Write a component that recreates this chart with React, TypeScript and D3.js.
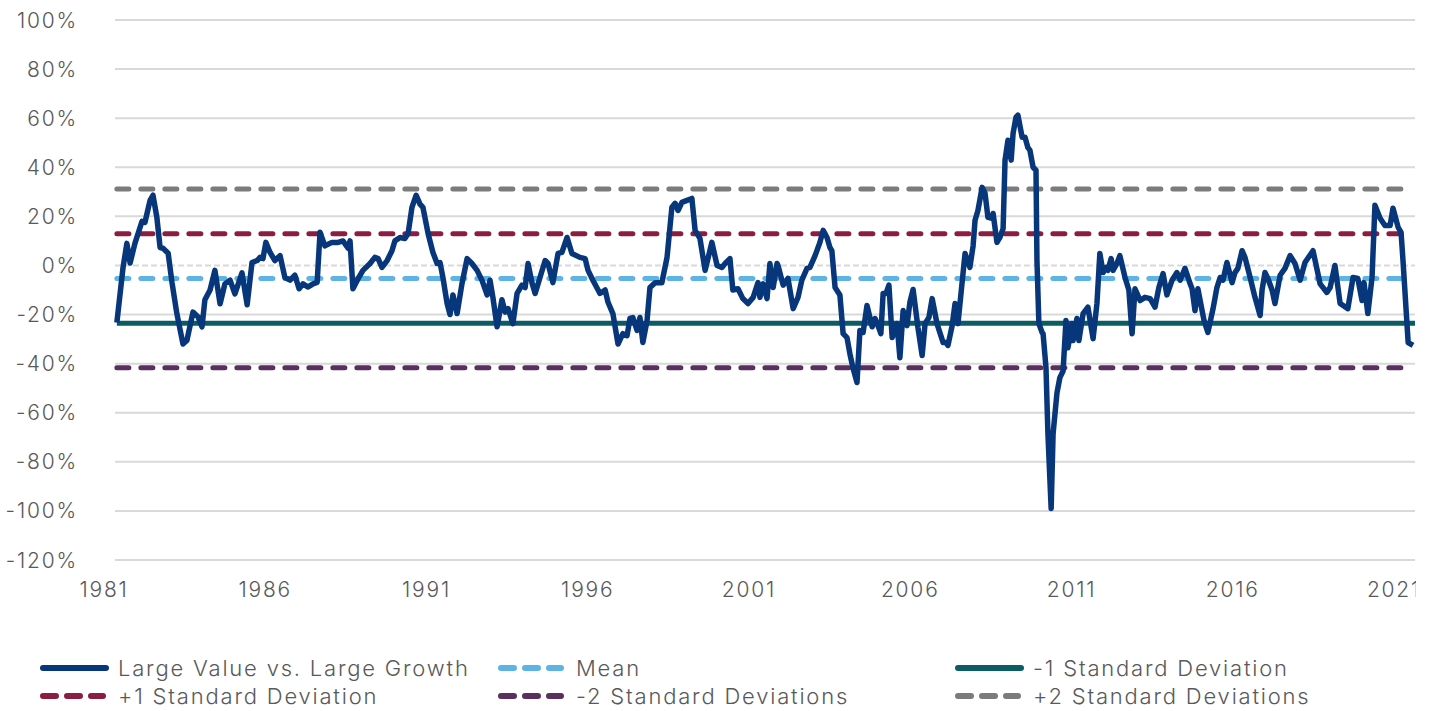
import * as d3 from 'd3';
import * as React from 'react';

const width = 1437;
const height = 711;
const margin = { top: 20, right: 22, bottom: 151, left: 115 };

// relative performance, large value vs. large growth (decimal year, %)
const spreadYears = [
  1981.43, 1981.62, 1981.74, 1981.84, 1981.99, 1982.21, 1982.3, 1982.46, 1982.55, 1982.67,
  1982.77, 1982.86, 1983.02, 1983.14, 1983.29, 1983.48, 1983.6, 1983.79, 1983.95, 1984.07,
  1984.16, 1984.32, 1984.47, 1984.63, 1984.78, 1984.94, 1985.09, 1985.31, 1985.47, 1985.62,
  1985.78, 1985.87, 1985.96, 1986.05, 1986.18, 1986.33, 1986.49, 1986.64, 1986.8, 1986.95,
  1987.08, 1987.2, 1987.36, 1987.51, 1987.64, 1987.73, 1987.88, 1988.1, 1988.29, 1988.44,
  1988.6, 1988.66, 1988.75, 1988.91, 1989.06, 1989.28, 1989.43, 1989.53, 1989.65, 1989.81,
  1989.96, 1990.05, 1990.21, 1990.36, 1990.46, 1990.58, 1990.71, 1990.83, 1990.92, 1991.08,
  1991.23, 1991.36, 1991.45, 1991.54, 1991.67, 1991.76, 1991.85, 1991.98, 1992.13, 1992.29,
  1992.44, 1992.6, 1992.75, 1992.91, 1993.0, 1993.09, 1993.22, 1993.37, 1993.47, 1993.56,
  1993.71, 1993.84, 1993.99, 1994.09, 1994.18, 1994.3, 1994.4, 1994.55, 1994.71, 1994.8,
  1994.95, 1995.11, 1995.23, 1995.39, 1995.54, 1995.79, 1995.95, 1996.04, 1996.19, 1996.41,
  1996.57, 1996.66, 1996.81, 1996.97, 1997.12, 1997.25, 1997.34, 1997.43, 1997.56, 1997.65,
  1997.74, 1997.87, 1997.96, 1998.12, 1998.33, 1998.49, 1998.64, 1998.74, 1998.83, 1998.95,
  1999.11, 1999.26, 1999.36, 1999.51, 1999.67, 1999.88, 2000.04, 2000.19, 2000.29, 2000.44,
  2000.53, 2000.69, 2000.84, 2001.0, 2001.16, 2001.31, 2001.37, 2001.47, 2001.59, 2001.68,
  2001.78, 2001.9, 2001.93, 2002.09, 2002.24, 2002.4, 2002.55, 2002.67, 2002.83, 2002.92,
  2003.08, 2003.23, 2003.33, 2003.45, 2003.54, 2003.6, 2003.7, 2003.85, 2003.95, 2004.07,
  2004.16, 2004.26, 2004.38, 2004.47, 2004.57, 2004.69, 2004.85, 2004.94, 2005.03, 2005.12,
  2005.19, 2005.28, 2005.37, 2005.47, 2005.62, 2005.71, 2005.81, 2005.93, 2006.02, 2006.12,
  2006.27, 2006.4, 2006.49, 2006.61, 2006.71, 2006.86, 2007.05, 2007.14, 2007.2, 2007.33,
  2007.42, 2007.51, 2007.6, 2007.73, 2007.88, 2007.98, 2008.04, 2008.13, 2008.26, 2008.35,
  2008.44, 2008.57, 2008.6, 2008.72, 2008.81, 2008.91, 2008.97, 2009.06, 2009.16, 2009.22,
  2009.31, 2009.37, 2009.5, 2009.59, 2009.68, 2009.74, 2009.84, 2009.93, 2009.96, 2010.02,
  2010.12, 2010.15, 2010.24, 2010.3, 2010.4, 2010.46, 2010.58, 2010.67, 2010.77, 2010.86,
  2010.92, 2011.05, 2011.08, 2011.2, 2011.26, 2011.39, 2011.54, 2011.7, 2011.82, 2011.91,
  2012.01, 2012.1, 2012.16, 2012.26, 2012.32, 2012.44, 2012.53, 2012.69, 2012.81, 2012.91,
  2013.0, 2013.16, 2013.31, 2013.47, 2013.62, 2013.74, 2013.87, 2013.99, 2014.15, 2014.3,
  2014.4, 2014.55, 2014.71, 2014.77, 2014.86, 2014.95, 2015.14, 2015.26, 2015.42, 2015.54,
  2015.64, 2015.73, 2015.85, 2016.01, 2016.1, 2016.19, 2016.32, 2016.41, 2016.57, 2016.72,
  2016.88, 2016.94, 2017.03, 2017.12, 2017.25, 2017.34, 2017.5, 2017.65, 2017.81, 2017.96,
  2018.12, 2018.27, 2018.52, 2018.74, 2018.95, 2019.05, 2019.2, 2019.36, 2019.6, 2019.76,
  2019.91, 2020.04, 2020.1, 2020.22, 2020.35, 2020.44, 2020.6, 2020.75, 2020.91, 2021.0,
  2021.16, 2021.25, 2021.31, 2021.47, 2021.62,
];

const spreadValues = [
  -23.3, -1, 9, 1, 9, 18, 17.5, 26.5, 28.6, 19.6,
  7.3, 7, 5, -7, -19.6, -32, -30.6, -19, -21, -25,
  -14, -10, -2, -15.6, -7.5, -6, -11.6, -3, -16, 1.2,
  2, 3.3, 2.8, 9.4, 5.3, 2, 4, -4.9, -6, -4,
  -9.5, -7.5, -8.8, -7.5, -6.9, 13.5, 8, 9.4, 9.4, 10,
  7, 10, -9.5, -5.4, -2, 0.8, 3.3, 2.8, -0.8, 2,
  6, 10, 11.4, 11, 13, 23.7, 28.6, 25, 23.7, 13,
  5.3, 0.8, 1.2, -4.9, -15.5, -20, -12, -19.6, -7.5, 2.8,
  0.8, -2, -6, -12, -6, -13, -25, -14, -19, -17.6,
  -23.7, -11.4, -8, -9, 0.8, -7, -11.4, -4.9, 2, 0.8,
  -7, 4.9, 5.3, 11.4, 4.9, 3.3, 2.8, -2, -6, -11.4,
  -10, -15, -19.6, -32, -27.8, -28.6, -21.6, -21.2, -26.5, -21.2,
  -31.4, -22.4, -9, -7, -7, 3.3, 23.7, 25.3, 22.4, 25.7,
  26.5, 27.3, 14.3, 11, -2, 9.4, 0, -0.8, 0.8, 2.8,
  -10, -9.5, -13.5, -15.5, -13, -7, -13, -7.5, -13.5, 0.8,
  -9, 0.8, 0, -8, -5.3, -17.6, -13, -6, -1.2, -0.8,
  4, 9.4, 14.3, 11.4, 7.3, 6, -9, -12, -27.8, -29.4,
  -36, -42, -47.7, -26.5, -27.3, -16.3, -25, -21.6, -24.5, -27.8,
  -11.4, -11.4, -8, -29.4, -23.7, -37.6, -18.4, -24.5, -15, -9.8,
  -25.3, -36.7, -23.7, -21.2, -13.5, -23.7, -31.4, -31.4, -32.6, -24.5,
  -15.5, -23.7, -12, 4.9, -0.8, 8, 18.4, 22.4, 31.8, 29.4,
  19.6, 19.2, 21.2, 9.4, 11.4, 15, 42.9, 51, 42.9, 53.9,
  60.4, 61.2, 52.2, 52.2, 48, 47, 40, 38.8, 2, -23.7,
  -27.3, -27.8, -41.6, -68.6, -99, -68.6, -52, -45.7, -43, -22.4,
  -33.5, -23.7, -30.6, -21.6, -30.6, -19.6, -17, -29.8, -15.5, 4.9,
  -2.9, -0.8, -2, 2.8, -2, 0.8, 4, -4.9, -10, -27.8,
  -9.5, -14.3, -13, -13.5, -17, -9, -3.3, -12, -6, -2.9,
  -6, -1.2, -7.5, -9.5, -18.4, -9.5, -22.4, -27.3, -17.6, -9,
  -4.9, -6, 1.2, -7, -2.9, -1.2, 6, 3.3, -4.9, -13,
  -20.4, -10, -2.9, -5.3, -10, -15.5, -4, -1.2, 4, 0.8,
  -6, 1.2, 6, -7.5, -11, -9, 0, -15.5, -17.6, -4.9,
  -5.3, -14.3, -7, -19.6, -4.9, 24.5, 19.2, 16.3, 16.3, 23.3,
  15.5, 13.5, 2, -31.4, -32.6, -33.9,
];

const meanValue = -5.3;
const stdDev = 18.2;

const yTicks = [100, 80, 60, 40, 20, 0, -20, -40, -60, -80, -100, -120];
const xTicks = [1981, 1986, 1991, 1996, 2001, 2006, 2011, 2016, 2021];

const seriesNames = [
  'Large Value vs. Large Growth',
  'Mean',
  '-1 Standard Deviation',
  '+1 Standard Deviation',
  '-2 Standard Deviations',
  '+2 Standard Deviations',
];
const seriesColors = ['#07377a', '#5db3e4', '#0b5d63', '#8b1d42', '#5a2e5f', '#7b7b7d'];
const seriesDashed = [false, true, false, true, true, true];
const bandMultipliers = [null, 0, -1, 1, -2, 2];

const fontFamily = "Inter, 'Open Sans', sans-serif";
const textColor = '#595959';

export default function App() {
  const plotRight = width - margin.right;
  const plotBottom = height - margin.bottom;

  const x = d3.scaleLinear().domain([1981, 2021]).range([103, 1393]);
  const y = d3.scaleLinear().domain([100, -120]).range([margin.top, plotBottom]);

  const points = spreadYears.map((yr, i) => [yr, spreadValues[i]] as [number, number]);
  const line = d3
    .line<[number, number]>()
    .x(d => x(d[0]))
    .y(d => y(d[1]));

  const x0 = x(spreadYears[0]);

  const legendCols = [40, 498, 955];
  const legendRows = [668, 696];

  return (
    <svg
      width={width}
      height={height}
      style={{ position: 'absolute', left: 0, top: 0, background: '#fff' }}
      fontFamily={fontFamily}
      fontWeight={300}
    >
      <defs>
        <clipPath id="chart-clip">
          <rect x={0} y={0} width={plotRight + 1} height={height} />
        </clipPath>
      </defs>

      {/* gridlines */}
      {yTicks.map(t => (
        <line
          key={t}
          x1={margin.left}
          x2={plotRight}
          y1={y(t)}
          y2={y(t)}
          stroke="#d9d9d9"
          strokeWidth={2}
          strokeDasharray={t === 0 ? '6 3' : undefined}
        />
      ))}

      {/* y tick labels */}
      {yTicks.map(t => (
        <text
          key={t}
          x={78}
          y={y(t)}
          dy="0.36em"
          textAnchor="end"
          fontSize={21}
          letterSpacing={1.8}
          fill={textColor}
        >
          {t + '%'}
        </text>
      ))}

      {/* x tick labels */}
      <g clipPath="url(#chart-clip)">
        {xTicks.map(t => (
          <text
            key={t}
            x={x(t) + 1}
            y={597}
            textAnchor="middle"
            fontSize={21}
            letterSpacing={1.8}
            fill={textColor}
          >
            {t}
          </text>
        ))}
      </g>

      {/* reference bands */}
      {bandMultipliers.map((m, i) => {
        if (m === null) return null;
        const v = meanValue + m * stdDev;
        return (
          <line
            key={i}
            x1={x0}
            x2={seriesDashed[i] ? plotRight - 10 : plotRight}
            y1={y(v)}
            y2={y(v)}
            stroke={seriesColors[i]}
            strokeWidth={5}
            strokeLinecap={seriesDashed[i] ? 'round' : 'butt'}
            strokeDasharray={seriesDashed[i] ? '12 12' : undefined}
          />
        );
      })}

      {/* main series */}
      <path
        d={line(points) || ''}
        fill="none"
        stroke={seriesColors[0]}
        strokeWidth={5.5}
        strokeLinejoin="round"
      />

      {/* legend */}
      {seriesNames.map((name, i) => {
        const cx = legendCols[i % 3];
        const cy = legendRows[Math.floor(i / 3)];
        return (
          <g key={name} transform={`translate(${cx},${cy})`}>
            <line
              x1={3}
              x2={seriesDashed[i] ? 63 : 66}
              y1={0}
              y2={0}
              stroke={seriesColors[i]}
              strokeWidth={6}
              strokeLinecap="round"
              strokeDasharray={seriesDashed[i] ? '13 11' : undefined}
            />
            <text
              x={78}
              y={0}
              dy="0.36em"
              fontSize={22}
              letterSpacing={1.8}
              fill={textColor}
            >
              {name}
            </text>
          </g>
        );
      })}
    </svg>
  );
}
